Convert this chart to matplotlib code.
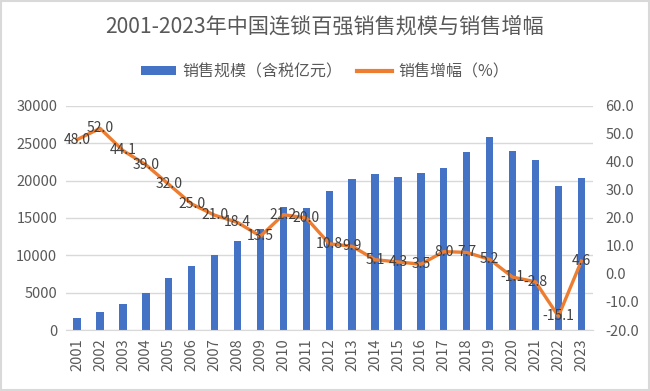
import matplotlib
matplotlib.use("Agg")
import matplotlib.pyplot as plt
from matplotlib.patches import Rectangle
from matplotlib.lines import Line2D
from matplotlib.patches import Patch

plt.rcParams['font.family'] = ['Noto Sans CJK SC', 'DejaVu Sans']

years = [str(y) for y in range(2001, 2024)]
sales = [1620, 2400, 3480, 4950, 6950, 8520, 10000, 11950, 13460, 16500, 16400, 18570,
         20280, 20860, 20500, 21000, 21700, 23800, 25800, 24000, 22800, 19300, 20300]
growth = [48.0, 52.0, 44.1, 39.0, 32.0, 25.0, 21.0, 18.4, 13.5, 21.2, 20.0, 10.8,
          9.9, 5.1, 4.3, 3.5, 8.0, 7.7, 5.2, -1.1, -2.8, -15.1, 4.6]
left_ticks = [0, 5000, 10000, 15000, 20000, 25000, 30000]
right_ticks = [-20, -10, 0, 10, 20, 30, 40, 50, 60]

title = "2001-2023年中国连锁百强销售规模与销售增幅"
bar_label = "销售规模（含税亿元）"
line_label = "销售增幅（%）"

bar_color = "#4472C4"
line_color = "#ED7D31"
text_color = "#595959"

fig = plt.figure(figsize=(6.5, 3.91), dpi=100)
fig.patches.append(Rectangle((0.002, 0.003), 0.996, 0.994, transform=fig.transFigure,
                             fill=False, edgecolor="#D9D9D9", linewidth=1.5))
ax = fig.add_axes([0.101, 0.156, 0.811, 0.573])
x = list(range(len(years)))
ax.bar(x, sales, width=0.32, color=bar_color, zorder=2)
ax.set_ylim(0, 30000)
ax.set_yticks(left_ticks)
ax.set_yticklabels([str(t) for t in left_ticks])
ax.set_xlim(-0.5, len(years) - 0.5)
ax.set_xticks(x)
ax.set_xticklabels(years, rotation=90)
ax.grid(axis='y', color="#D9D9D9", linewidth=1, zorder=0)
for s in ax.spines.values():
    s.set_visible(False)
ax.spines['bottom'].set_visible(True)
ax.spines['bottom'].set_color("#D9D9D9")
ax.tick_params(axis='both', length=0, labelsize=10.5, colors=text_color, pad=6)

ax2 = ax.twinx()
ax2.plot(x, growth, color=line_color, linewidth=2.4, zorder=3)
ax2.set_ylim(-20, 60)
ax2.set_yticks(right_ticks)
ax2.set_yticklabels([f"{t:.1f}" for t in right_ticks])
for s in ax2.spines.values():
    s.set_visible(False)
ax2.tick_params(axis='y', length=0, labelsize=10.5, colors=text_color, pad=9)
for xi, g in zip(x, growth):
    ax2.text(xi, g, f"{g:.1f}", ha='center', va='center', fontsize=10,
             color="#404040", zorder=4)

fig.text(0.5, 0.932, title, ha='center', va='center', fontsize=15.2, color=text_color)
handles = [Patch(facecolor=bar_color, edgecolor='none'),
           Line2D([0], [0], color=line_color, linewidth=3)]
fig.legend(handles, [bar_label, line_label], loc='center', bbox_to_anchor=(0.5, 0.817),
           ncol=2, frameon=False, fontsize=11.5, labelcolor=text_color,
           handlelength=2.2, handleheight=0.5, columnspacing=0.9, handletextpad=0.4)

fig.savefig("out.png", dpi=100, facecolor="white")
